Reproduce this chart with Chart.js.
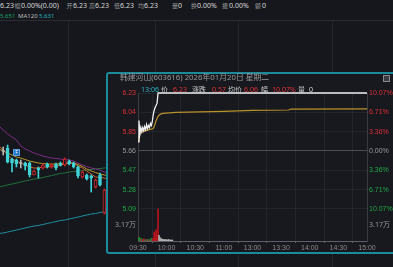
<!DOCTYPE html>
<html>
<head>
<meta charset="utf-8">
<script src="https://cdn.jsdelivr.net/npm/chart.js@4.4.1/dist/chart.umd.min.js"></script>
<style>
  html, body { margin: 0; padding: 0; background: #15171c; width: 393px; height: 267px; overflow: hidden;
    font-family: "Noto Sans", "Noto Sans CJK SC", sans-serif; }
  .t { position: absolute; white-space: nowrap; line-height: 1; }
  .cv { position: absolute; }
  #sep { position: absolute; left: 0; top: 20px; width: 393px; height: 1px; background: #2a2d33; }
  #fbox { position: absolute; left: 13px; top: 149px; width: 5px; height: 5px; background: #1f6fc0;
    border: 1px solid #5aa0e0; color: #fff; font-size: 5px; line-height: 5px; text-align: center; }
  #pop { position: absolute; left: 106px; top: 72px; width: 300px; height: 178px; background: #17191e;
    border: 2px solid #1a8b9b; border-radius: 3px; }
  #btn { position: absolute; left: 383px; top: 75px; width: 5px; height: 5px; border: 1px solid #8a8a8a; background: #3a3c42; }
</style>
</head>
<body>
<div id="sep"></div>
<div class="cv" style="left:0;top:21px;width:393px;height:246px"><canvas id="bgChart"></canvas></div>
<div id="fbox">F</div>
<div id="pop"></div>
<div id="btn"></div>
<div class="cv" style="left:107px;top:84px;width:286px;height:167px"><canvas id="dayChart"></canvas></div>
<div id="texts"></div>
<script>
// ---- background daily candles (price units) ----
const bgOpen  = [5.79, 5.82, 5.71, 5.70, 5.67, 5.67, 5.67, 5.55, 5.62, 5.62, 5.66, 5.63, 5.66, 5.66, 5.65, 5.69, 5.67, 5.63, 5.53, 5.55, 5.54, 5.43, 5.55, 5.17];
const bgClose = [5.79, 5.68, 5.67, 5.66, 5.67, 5.64, 5.55, 5.59, 5.60, 5.65, 5.63, 5.65, 5.62, 5.65, 5.71, 5.66, 5.63, 5.54, 5.58, 5.51, 5.52, 5.50, 5.45, 5.40];
const bgHigh  = [5.83, 5.85, 5.72, 5.71, 5.70, 5.68, 5.68, 5.60, 5.63, 5.66, 5.67, 5.66, 5.67, 5.68, 5.72, 5.70, 5.68, 5.64, 5.59, 5.56, 5.55, 5.51, 5.57, 5.41];
const bgLow   = [5.75, 5.67, 5.58, 5.63, 5.62, 5.60, 5.53, 5.55, 5.52, 5.61, 5.62, 5.62, 5.60, 5.64, 5.64, 5.65, 5.62, 5.52, 5.52, 5.50, 5.38, 5.42, 5.44, 5.16];
// moving averages, candle index -1 .. 24
const ma5   = [5.84, 5.80, 5.75, 5.71, 5.69, 5.67, 5.65, 5.63, 5.62, 5.62, 5.63, 5.63, 5.635, 5.64, 5.65, 5.66, 5.67, 5.665, 5.64, 5.62, 5.59, 5.56, 5.53, 5.525, 5.52, 5.50];
const ma10  = [5.81, 5.79, 5.77, 5.75, 5.73, 5.72, 5.705, 5.69, 5.68, 5.67, 5.665, 5.66, 5.66, 5.66, 5.665, 5.67, 5.67, 5.67, 5.655, 5.635, 5.61, 5.59, 5.575, 5.56, 5.55, 5.54];
const ma20  = [6.04, 6.00, 5.96, 5.93, 5.90, 5.84, 5.81, 5.79, 5.77, 5.755, 5.74, 5.73, 5.72, 5.715, 5.71, 5.705, 5.70, 5.69, 5.67, 5.65, 5.635, 5.62, 5.61, 5.60, 5.58, 5.57];
const ma60  = [5.43, 5.44, 5.45, 5.46, 5.47, 5.48, 5.49, 5.50, 5.51, 5.515, 5.525, 5.535, 5.545, 5.555, 5.565, 5.57, 5.58, 5.585, 5.59, 5.595, 5.60, 5.605, 5.61, 5.615, 5.62, 5.625];
const ma120 = [4.965, 4.97, 4.98, 4.99, 5.00, 5.01, 5.02, 5.03, 5.04, 5.045, 5.055, 5.065, 5.075, 5.085, 5.095, 5.10, 5.11, 5.12, 5.13, 5.14, 5.15, 5.16, 5.165, 5.175, 5.185, 5.19];
const bgGridIdx = [3.8, 25.9, 43.4, 63.4, 86.3];

// ---- intraday popup ----
const timeTicks  = [0, 30, 60, 90, 120, 150, 180, 210, 240];
const timeLabels = ['09:30', '10:00', '10:30', '11:00', '13:00', '13:30', '14:00', '14:30', '15:00'];
const priceTicks = [6.23, 6.04, 5.85, 5.66, 5.47, 5.28, 5.09];
const pctLabels  = ['10.07%', '6.71%', '3.36%', '0.00%', '3.36%', '6.71%', '10.07%'];
const preClose = 5.66;
const volMark = 3.17; // 万

const priceMin = [0, 1, 2, 3, 4, 5, 6, 7, 8, 9, 10, 11, 12, 13, 14, 15, 16, 17, 18, 19, 20, 21, 240];
const priceVal = [5.75, 5.96, 5.83, 5.89, 5.85, 5.89, 5.86, 5.90, 5.87, 5.92, 5.88, 5.91, 5.89, 5.93, 5.91, 5.95, 6.02, 6.06, 6.09, 6.11, 6.13, 6.23, 6.23];
const avgMin = [0, 1, 2, 3, 5, 8, 12, 16, 17, 18, 19, 20, 21, 23, 26, 40, 90, 120, 158, 160, 240];
const avgVal = [5.76, 5.80, 5.82, 5.84, 5.85, 5.86, 5.87, 5.88, 5.90, 5.93, 5.96, 5.98, 6.00, 6.02, 6.03, 6.04, 6.05, 6.06, 6.063, 6.072, 6.073];
const volMin = [0, 1, 2, 3, 4, 5, 6, 7, 8, 9, 10, 11, 12, 13, 14, 15, 16, 17, 18, 19, 20, 21, 22, 23, 24, 25, 26, 27, 28, 29, 30, 31, 32, 33, 34, 35, 36];
const volVal = [0.85, 0.75, 0.6, 0.35, 0.45, 0.25, 0.4, 0.2, 0.3, 0.25, 0.2, 0.3, 0.2, 0.25, 0.55, 0.3, 0.5, 1.8, 1.2, 2.2, 0.9, 6.34, 1.1, 0.7, 0.5, 0.4, 0.3, 0.3, 0.2, 0.3, 0.2, 0.2, 0.3, 0.2, 0.2, 0.15, 0.2];
const volDir = ['u','d','d','u','d','u','u','d','u','d','u','d','u','d','d','u','u','u','u','u','u','u','f','f','f','f','f','f','f','f','f','f','f','f','f','f','f'];

const RED = '#e0303a', GREEN = '#22a84a', GRAY = '#9a9a9a';

// ---- texts ----
const texts = [
  // header row 1
  ['6.23', 0, 2, '#d8d8d8', 7], ['幅', 14.5, 2.5, GRAY, 6], ['0.00%(0.00)', 21, 2, '#d8d8d8', 7],
  ['开', 66.5, 2.5, GRAY, 6], ['6.23', 73, 2, '#d8d8d8', 7], ['高', 89, 2.5, GRAY, 6], ['6.23', 95, 2, '#d8d8d8', 7],
  ['低', 114, 2.5, GRAY, 6], ['6.23', 120, 2, '#d8d8d8', 7], ['均', 138, 2.5, GRAY, 6], ['6.23', 144, 2, '#d8d8d8', 7],
  ['量', 172, 2.5, GRAY, 6], ['0', 178, 2, '#d8d8d8', 7], ['换', 191, 2.5, GRAY, 6], ['0.00%', 197, 2, '#d8d8d8', 7],
  ['振', 222, 2.5, GRAY, 6], ['0.00%', 229, 2, '#d8d8d8', 7], ['额', 255, 2.5, GRAY, 6], ['0', 262, 2, '#d8d8d8', 7],
  // header row 2
  ['5.651', 0, 12.5, '#1fa06a', 6], ['MA120', 18, 12.5, '#bdbdbd', 6], ['5.631', 39, 12.5, '#2ab0c0', 6],
  // popup title + info
  ['韩建河山(603616) 2026年01月20日 星期二', 120, 74, GRAY, 7.8],
  ['13:06', 141, 85.5, '#2fb4c4', 7], ['价', 161, 85.5, '#c8c8c8', 7], ['6.23', 173, 85.5, RED, 7],
  ['涨跌', 192, 85.5, '#c8c8c8', 7], ['0.57', 212, 85.5, RED, 7], ['均价', 228, 85.5, '#c8c8c8', 7],
  ['6.06', 244, 85.5, RED, 7], ['幅', 261, 85.5, '#c8c8c8', 7], ['10.07%', 272, 85.5, RED, 7],
  ['量', 298, 85.5, '#c8c8c8', 7], ['0', 309, 85.5, '#d8d8d8', 7]
];
const box = document.getElementById('texts');
for (const [s, x, y, c, f] of texts) {
  const el = document.createElement('div');
  el.className = 't';
  el.textContent = s;
  el.style.left = x + 'px';
  el.style.top = y + 'px';
  el.style.color = c;
  el.style.fontSize = f + 'px';
  box.appendChild(el);
}

// ---- background chart ----
function candleColor(i) {
  if (bgClose[i] > bgOpen[i]) return '#d0262c';
  if (bgClose[i] < bgOpen[i]) return '#3fd4d8';
  return '#b5b5b5';
}
const bodies = bgOpen.map((o, i) => {
  const c = bgClose[i];
  const lo = Math.min(o, c), hi = Math.max(o, c);
  return { x: i, y: hi - lo < 0.01 ? [lo - 0.005, hi + 0.005] : [lo, hi] };
});
const wicks = bgOpen.map((o, i) => ({ x: i, y: [bgLow[i], bgHigh[i]] }));
const maLine = (arr, color) => ({
  type: 'line', data: arr.map((v, i) => ({ x: i - 1, y: v })), borderColor: color,
  borderWidth: 1, pointRadius: 0, order: 3
});

new Chart(document.getElementById('bgChart'), {
  type: 'bar',
  data: {
    datasets: [
      { data: bodies, barThickness: 3, grouped: false, order: 0, borderWidth: 1, borderSkipped: false,
        backgroundColor: bodies.map((_, i) => bgClose[i] > bgOpen[i] ? '#15171c' : candleColor(i)),
        borderColor: bodies.map((_, i) => candleColor(i)) },
      { data: wicks, barThickness: 1, grouped: false, order: 1,
        backgroundColor: wicks.map((_, i) => candleColor(i)) },
      maLine(ma5, '#c8642a'),
      maLine(ma10, '#b8962c'),
      maLine(ma20, '#7d2c83'),
      maLine(ma60, '#23703a'),
      maLine(ma120, '#1f8fa0')
    ]
  },
  options: {
    responsive: true, maintainAspectRatio: false, animation: false,
    layout: { padding: 0 },
    plugins: { legend: { display: false }, tooltip: { enabled: false } },
    scales: {
      x: { type: 'linear', min: -0.727, max: 88.59, offset: false,
        afterBuildTicks: s => { s.ticks = bgGridIdx.map(v => ({ value: v })); },
        afterFit: s => { s.height = 0; },
        ticks: { display: false }, border: { display: false },
        grid: { color: '#23262c', drawTicks: false } },
      y: { display: false, min: 4.63, max: 7.09 }
    }
  }
});

// ---- intraday chart ----
const volLabelPlugin = {
  id: 'volLabel',
  afterDraw(chart) {
    const { ctx, scales, chartArea } = chart;
    const y = scales.yv.getPixelForValue(volMark);
    ctx.save();
    ctx.font = '7px "Noto Sans", "Noto Sans CJK SC"';
    ctx.fillStyle = GRAY;
    ctx.textBaseline = 'middle';
    ctx.textAlign = 'right';
    ctx.fillText(volMark.toFixed(2) + '万', chartArea.left - 2, y);
    ctx.textAlign = 'left';
    ctx.fillText(volMark.toFixed(2) + '万', chartArea.right + 2, y);
    ctx.restore();
  }
};
const tickColor = ctx => ctx.tick.value > preClose ? RED : (ctx.tick.value < preClose ? GREEN : GRAY);
const volColor = { u: '#b8141c', d: '#1a8a3a', f: '#b0b0b0' };

new Chart(document.getElementById('dayChart'), {
  type: 'bar',
  data: {
    datasets: [
      { type: 'line', data: priceMin.map((m, i) => ({ x: m, y: priceVal[i] })), yAxisID: 'y',
        borderColor: '#f0f0f0', borderWidth: 1.3, pointRadius: 0, order: 0, clip: false },
      { type: 'line', data: avgMin.map((m, i) => ({ x: m, y: avgVal[i] })), yAxisID: 'y',
        borderColor: '#b8912a', borderWidth: 1.2, pointRadius: 0, order: 1 },
      { data: volMin.map((m, i) => ({ x: m, y: volVal[i] })), yAxisID: 'yv', barThickness: 1, grouped: false,
        backgroundColor: volDir.map(d => volColor[d]), order: 2 }
    ]
  },
  options: {
    responsive: true, maintainAspectRatio: false, animation: false,
    layout: { padding: { top: 9, left: 0, right: 0, bottom: 0 } },
    plugins: { legend: { display: false }, tooltip: { enabled: false } },
    scales: {
      x: { type: 'linear', min: 0, max: 240, offset: false,
        afterBuildTicks: s => { s.ticks = timeTicks.map(v => ({ value: v })); },
        afterFit: s => { s.height = 10; },
        ticks: { color: '#8a8a8a', font: { size: 7 }, padding: 1, maxRotation: 0, autoSkip: false,
          callback: (v, i) => timeLabels[i] },
        grid: { color: '#22252b', tickLength: 2, tickColor: '#5d6068' },
        border: { color: '#5d6068' } },
      y: { position: 'left', min: 4.775, max: 6.23,
        afterBuildTicks: s => { s.ticks = priceTicks.map(v => ({ value: v })); },
        afterFit: s => { s.width = 31; },
        ticks: { color: tickColor, font: { size: 7 }, padding: 2, callback: v => v.toFixed(2) },
        grid: { drawTicks: false, color: ctx => ctx.tick && ctx.tick.value === preClose ? '#4b4e56' : '#22252b' },
        border: { color: '#3a3d44' } },
      y2: { position: 'right', min: 4.775, max: 6.23,
        afterBuildTicks: s => { s.ticks = priceTicks.map(v => ({ value: v })); },
        afterFit: s => { s.width = 26; },
        ticks: { color: tickColor, font: { size: 7 }, padding: 2, callback: (v, i) => pctLabels[i] },
        grid: { drawOnChartArea: false, drawTicks: false },
        border: { color: '#3a3d44' } },
      yv: { display: false, min: 0, max: 29.3 }
    }
  },
  plugins: [volLabelPlugin]
});
</script>
</body>
</html>
